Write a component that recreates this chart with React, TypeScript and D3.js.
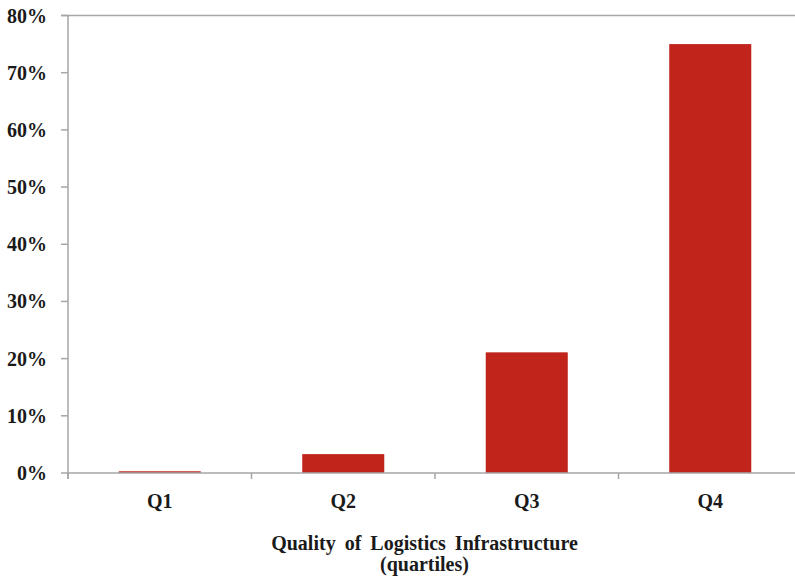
import React from "react";
import * as d3 from "d3";

const categories = ["Q1", "Q2", "Q3", "Q4"];
const values = [0.3, 3.3, 21.1, 75.0];
const yTicks = [0, 10, 20, 30, 40, 50, 60, 70, 80];
const axisTitle = ["Quality of Logistics Infrastructure", "(quartiles)"];

export default function App() {
  const W = 795, H = 582;
  const x0 = 68, x1 = 802, yTop = 15.5, yBot = 473;
  const x = d3.scaleBand<string>().domain(categories).range([x0, x1]).paddingInner(0.553).paddingOuter(0.2765);
  const y = d3.scaleLinear().domain([0, 80]).range([yBot, yTop]);
  const bounds = [x0, ...categories.map((c) => (x(c)! - x.step() * x.paddingInner() / 2 + x.step()))];
  const axisColor = "#a6a6a6";
  const font = "'Liberation Serif', 'Times New Roman', serif";
  return (
    <svg width={W} height={H} style={{ position: "absolute", left: 0, top: 0 }}>
      <rect width={W} height={H} fill="#fff" />
      {/* top frame line */}
      <line x1={61} x2={W} y1={y(80)} y2={y(80)} stroke={axisColor} strokeWidth={1.5} />
      {/* bars */}
      {categories.map((c, i) => (
        <rect key={c} x={x(c)} width={x.bandwidth()} y={y(values[i])} height={yBot - y(values[i])} fill="#c0241a" />
      ))}
      {/* y axis */}
      <line x1={x0} x2={x0} y1={yTop} y2={479} stroke={axisColor} strokeWidth={1.5} />
      {yTicks.map((t) => (
        <g key={t}>
          <line x1={61} x2={x0} y1={y(t)} y2={y(t)} stroke={axisColor} strokeWidth={1.5} />
          <text x={47} y={y(t)} dy="0.35em" textAnchor="end" fontFamily={font} fontWeight="bold" fontSize={20} fill="#1a1a1a">
            {t}%
          </text>
        </g>
      ))}
      {/* x axis */}
      <line x1={x0} x2={W} y1={yBot} y2={yBot} stroke={axisColor} strokeWidth={1.5} />
      {bounds.map((b, i) => (
        <line key={i} x1={b} x2={b} y1={yBot} y2={479} stroke={axisColor} strokeWidth={1.5} />
      ))}
      {categories.map((c) => (
        <text key={c} x={x(c)! + x.bandwidth() / 2} y={508} textAnchor="middle" fontFamily={font} fontWeight="bold" fontSize={20} fill="#1a1a1a">
          {c}
        </text>
      ))}
      {axisTitle.map((t, i) => (
        <text key={i} x={424.5} y={550 + i * 21} textAnchor="middle" fontFamily={font} fontWeight="bold" fontSize={20} wordSpacing={4} fill="#1a1a1a">
          {t}
        </text>
      ))}
    </svg>
  );
}
